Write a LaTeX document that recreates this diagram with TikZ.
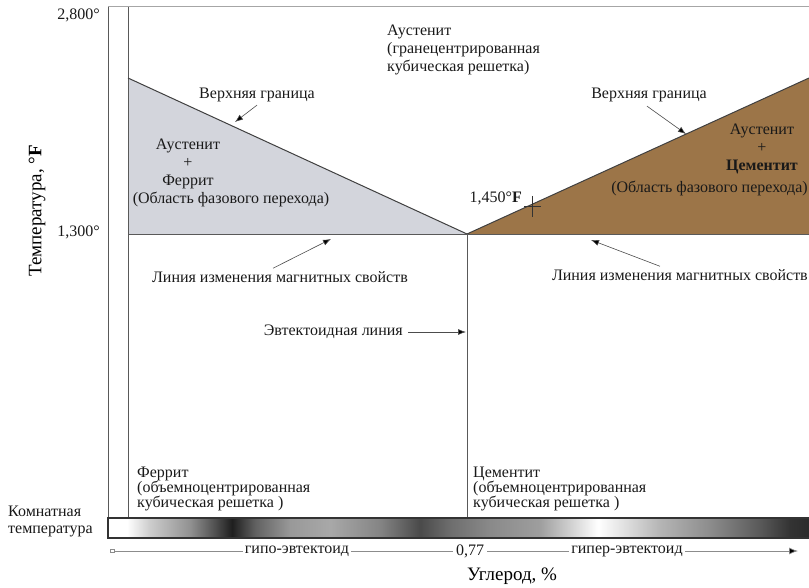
\documentclass[tikz,border=0pt]{standalone}
\usepackage{fontspec}
\setmainfont{Liberation Serif}
\usetikzlibrary{arrows.meta}
\definecolor{ferfill}{HTML}{D3D5DC}
\definecolor{cemfill}{HTML}{9C7548}
\pgfdeclarehorizontalshading{barshade}{100bp}{color(0bp)=(white); color(25bp)=(white); color(26.35bp)=(white); color(28bp)=(black!20); color(30.85bp)=(black!43); color(32.65bp)=(black!69); color(33.85bp)=(black!88); color(35.5bp)=(black!62); color(38bp)=(black!40); color(40.85bp)=(black!34); color(44.4bp)=(black!48); color(47.25bp)=(black!71); color(49.4bp)=(black!57); color(52.25bp)=(black!46); color(55.8bp)=(black!38); color(58.65bp)=(black!12); color(59.95bp)=(white); color(61.5bp)=(black!10); color(64.35bp)=(black!29); color(67.95bp)=(black!45); color(71.5bp)=(black!65); color(73.65bp)=(black!80); color(75bp)=(black!83); color(100bp)=(black!83)}
\tikzset{
  txt/.style={font=\fontsize{16}{18}\selectfont, inner sep=0pt, text=black!90},
  bigtxt/.style={font=\fontsize{19}{22}\selectfont, inner sep=0pt},
  arr/.style={draw=black!70, line width=0.6pt, -{Latex[length=8pt,width=6pt,fill=black]}},
  bound/.style={draw=black!75, line width=1pt},
  thinline/.style={draw=black!65, line width=0.8pt},
  axisline/.style={draw=black!45, line width=0.7pt}
}
\begin{document}
\begin{tikzpicture}[x=1pt,y=-1pt]
\useasboundingbox (0,0) rectangle (809,588);
% key points
\coordinate (TL) at (128,78);
\coordinate (E) at (467,234);
\coordinate (TR) at (809,78);
\coordinate (L0) at (128,234);
\coordinate (R0) at (809,234);
\coordinate (Ebot) at (467,518);
% fills
\fill[ferfill] (TL) -- (E) -- (L0) -- cycle;
\fill[cemfill] (E) -- (TR) -- (R0) -- cycle;
% frame
\draw[draw=black!35, line width=1pt] (108,7) -- (809,7);
\draw[thinline] (108,7) -- (108,538);
\draw[thinline] (128,7) -- (128,518);
% boundaries
\draw[bound] (TL) -- (E) -- (TR);
\draw[thinline] (L0) -- (R0);
\draw[thinline] (E) -- (Ebot);
% bar
\shade[shading=barshade] (108,518) rectangle (809,538);
\draw[draw=black!80, line width=1.2pt] (809,518) -- (108,518) -- (108,538) -- (809,538);
% cross at 1450
\draw[draw=black!80, line width=0.8pt] (524,206) -- (541,206) (532,196) -- (532,217);
% axis labels
\node[txt, anchor=east] (t2800) at (100,15) {2,800°};
\node[txt, anchor=east] (t1300) at (100,232) {1,300°};
\node[bigtxt, rotate=90] (ylab) at (37,211) {Температура, °\textbf{F}};
\node[txt, anchor=west, align=left, font=\fontsize{16}{17}\selectfont] (room) at (8,521) {Комнатная\\температура};
% top austenite
\node[txt, anchor=west, align=left] (aust) at (387,50) {Аустенит\\(гранецентрированная\\кубическая решетка)};
% left triangle text
\node[txt, align=center] (ferA) at (188,164) {Аустенит\\+\\Феррит};
\node[txt] (ferB) at (231,199) {(Область фазового перехода)};
% right triangle text
\node[txt, align=center] (cemA) at (762,149) {Аустенит\\+\\\textbf{Цементит}};
\node[txt, anchor=east] (cemB) at (808,188) {(Область фазового перехода)};
\node[txt, anchor=east] (t1450) at (522,198) {1,450°\textbf{F}};
% upper boundary labels
\node[txt] (vgL) at (257,95) {Верхняя граница};
\node[txt] (vgR) at (649,95) {Верхняя граница};
\coordinate (vgLt) at (235,122);
\coordinate (vgRt) at (686,134);
\draw[arr] ([xshift=0pt,yshift=-3pt]vgL.south) -- (vgLt);
\draw[arr] ([xshift=-2pt,yshift=-4pt]vgR.south) -- (vgRt);
% magnetic lines
\node[txt] (magL) at (280,277) {Линия изменения магнитных свойств};
\node[txt, anchor=east] (magR) at (808,275) {Линия изменения магнитных свойств};
\coordinate (magLt) at (331,239);
\coordinate (magRt) at (591,240);
\draw[arr] ([xshift=-7pt,yshift=3pt]magL.north) -- (magLt);
\draw[arr] ([xshift=-20pt,yshift=3pt]magR.north) -- (magRt);
% eutectoid line
\node[txt, anchor=east] (eut) at (403,332) {Эвтектоидная линия};
\coordinate (eutT) at (466,332);
\draw[arr] ([xshift=5pt]eut.east) -- (eutT);
% bottom phase texts
\node[txt, anchor=west, align=left, font=\fontsize{16}{15}\selectfont] (ferr) at (137,489) {Феррит\\(объемноцентрированная\\кубическая решетка )};
\node[txt, anchor=west, align=left, font=\fontsize{16}{15}\selectfont] (cem) at (473,489) {Цементит\\(объемноцентрированная\\кубическая решетка )};
% carbon axis
\coordinate (ax0) at (114,551);
\coordinate (ax1) at (798,551);
\draw[axisline, -{Latex[length=9pt,width=7pt,fill=black]}] (ax0) -- (ax1);
\draw[draw=black!45, fill=white, line width=0.5pt] (110,549.5) rectangle (114,552.5);
\node[txt, fill=white, inner xsep=2pt] (hypo) at (297,551) {гипо-эвтектоид};
\node[txt, fill=white, inner xsep=3pt] (c077) at (470,551) {0,77};
\node[txt, fill=white, inner xsep=2pt] (hyper) at (627,551) {гипер-эвтектоид};
\node[bigtxt] (xlab) at (512,576) {Углерод, \%};
\end{tikzpicture}
\end{document}
